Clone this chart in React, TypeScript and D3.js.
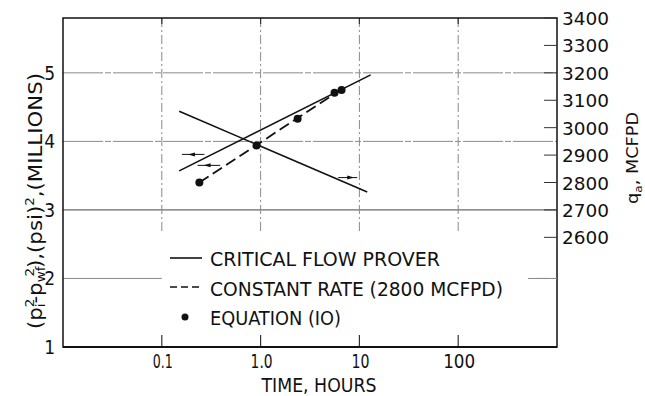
import React from "react";
import * as d3 from "d3";

// ---- data ----
const provRateTimes = [0.15, 12.0]; // hours
const provRate = [3060, 2765]; // MCFPD, right axis
const provPressTimes = [0.15, 13.0];
const provPress = [3.57, 4.97]; // millions psi^2, left axis
const constRateTimes = [0.24, 6.6];
const constRatePress = [3.4, 4.76];
const eqTimes = [0.24, 0.91, 2.37, 5.6, 6.6];
const eqPress = [3.4, 3.94, 4.33, 4.71, 4.75];

const xTicks = [0.1, 1, 10, 100];
const xTickLabels = ["0.1", "1.0", "10", "100"];
const xTickLabelWidths = [20, 22, 18, 32];
const leftTicks = [1, 2, 3, 4, 5];
const rightTicks = [2600, 2700, 2800, 2900, 3000, 3100, 3200, 3300, 3400];
const legendLabels = ["CRITICAL  FLOW  PROVER", "CONSTANT RATE (2800  MCFPD)", "EQUATION  (IO)"];

// arrows
const arrowStartT = [0.16, 0.23, 6.1];
const arrowEndT = [0.27, 0.39, 9.5];
const arrowVal = [3.81, 3.65, 2818];
const arrowAxis = ["L", "L", "R"];
const arrowDir = ["left", "left", "right"];

const W = 645;
const H = 396;
const L = 63, R = 557, T = 18, B = 347;

const FONT = '"DejaVu Sans Condensed", "Liberation Sans Narrow", "DejaVu Sans", sans-serif';

export default function App() {
  const x = d3.scaleLog().domain([0.01, 1000]).range([L, R]);
  const yL = d3.scaleLinear().domain([1, 5.8]).range([B, T]);
  const yR = d3.scaleLinear().domain([2200, 3400]).range([B, T]);

  const lineL = d3.line<[number, number]>().x((d) => x(d[0])).y((d) => yL(d[1]));
  const lineR = d3.line<[number, number]>().x((d) => x(d[0])).y((d) => yR(d[1]));

  const provRatePts = provRateTimes.map((t, i) => [t, provRate[i]] as [number, number]);
  const provPressPts = provPressTimes.map((t, i) => [t, provPress[i]] as [number, number]);
  const constPts = constRateTimes.map((t, i) => [t, constRatePress[i]] as [number, number]);

  const gridColor = "#8a8a8a";
  const textStyle: React.CSSProperties = { fontFamily: FONT, fontStretch: "condensed" };

  return (
    <svg width={W} height={H} style={{ position: "absolute", left: 0, top: 0, background: "#fff" }}>
      <rect x={0} y={0} width={W} height={H} fill="#fff" />
      {/* horizontal grid */}
      {[3, 4, 5].map((v) => (
        <line key={v} x1={L} x2={R} y1={yL(v)} y2={yL(v)} stroke={v === 3 ? "#444" : gridColor}
          strokeWidth={1} strokeDasharray={v === 3 ? undefined : "40 2 6 2"} />
      ))}
      <line x1={L} x2={x(0.1)} y1={yL(2)} y2={yL(2)} stroke={gridColor} strokeWidth={1} />
      <line x1={528} x2={R} y1={yL(2)} y2={yL(2)} stroke={gridColor} strokeWidth={1} strokeDasharray="10 2" />
      {/* vertical grid */}
      {xTicks.map((t) => (
        <g key={t}>
          <line x1={x(t)} x2={x(t)} y1={T} y2={232} stroke={gridColor} strokeWidth={1} strokeDasharray="9 3 2 3" />
          <line x1={x(t)} x2={x(t)} y1={T} y2={T + 6} stroke="#333" strokeWidth={1.2} />
          <line x1={x(t)} x2={x(t)} y1={B - 12} y2={B} stroke="#333" strokeWidth={1.2} />
        </g>
      ))}
      {/* frame */}
      <rect x={L} y={T} width={R - L} height={B - T} fill="none" stroke="#111" strokeWidth={1.5} />
      <line x1={L} x2={R} y1={B} y2={B} stroke="#111" strokeWidth={2} />
      {/* right axis ticks */}
      {rightTicks.map((v) => (
        <g key={v}>
          <line x1={R - 13} x2={R} y1={yR(v)} y2={yR(v)} stroke="#333" strokeWidth={1} />
          <text x={R + 5} y={yR(v) + 7} fontSize={18} fill="#111" style={textStyle}
            textLength={47} lengthAdjust="spacingAndGlyphs">{v}</text>
        </g>
      ))}
      <line x1={R - 22} x2={R} y1={yL(2)} y2={yL(2)} stroke={gridColor} strokeWidth={1} />
      {/* left axis labels */}
      {leftTicks.map((v) => (
        <text key={v} x={L - 8} y={yL(v) + 7} fontSize={19} textAnchor="end" fill="#111" style={textStyle}>{v}</text>
      ))}
      {/* x tick labels */}
      {xTicks.map((t, i) => (
        <text key={t} x={x(t) + 1} y={368} fontSize={20} textAnchor="middle" fill="#111" style={textStyle}
          textLength={xTickLabelWidths[i]} lengthAdjust="spacingAndGlyphs">{xTickLabels[i]}</text>
      ))}
      <text x={319} y={392} fontSize={20} textAnchor="middle" fill="#111" style={textStyle} textLength={115} lengthAdjust="spacingAndGlyphs">TIME, HOURS</text>
      {/* left title */}
      <text transform="translate(42,201) rotate(-90)" fontSize={19} textAnchor="middle" fill="#111" style={textStyle}
        textLength={256} lengthAdjust="spacingAndGlyphs">
        (p<tspan fontSize={12} dy={-8}>2</tspan><tspan fontSize={12} dx={-7} dy={11}>i</tspan><tspan dy={-3}>-p</tspan><tspan fontSize={12} dy={3}>wf</tspan><tspan fontSize={12} dx={-8} dy={-11}>2</tspan><tspan dy={8}>),(psi)</tspan><tspan fontSize={12} dy={-8}>2</tspan><tspan dy={8}>,(MILLIONS)</tspan>
      </text>
      {/* right title */}
      <text transform="translate(638,158) rotate(-90)" fontSize={16} textAnchor="middle" fill="#111" style={textStyle}
        textLength={92} lengthAdjust="spacingAndGlyphs">
        q<tspan fontSize={11} dy={4}>a</tspan><tspan dy={-4}>, MCFPD</tspan>
      </text>
      {/* data lines */}
      <path d={lineR(provRatePts) || ""} fill="none" stroke="#111" strokeWidth={1.6} />
      <path d={lineL(provPressPts) || ""} fill="none" stroke="#111" strokeWidth={1.6} />
      <path d={lineL(constPts) || ""} fill="none" stroke="#111" strokeWidth={1.8} strokeDasharray="11 5" />
      {eqTimes.map((t, i) => (
        <circle key={i} cx={x(t)} cy={yL(eqPress[i])} r={4} fill="#111" />
      ))}
      {/* arrows */}
      {arrowVal.map((v, i) => {
        const yy = arrowAxis[i] === "L" ? yL(v) : yR(v);
        const x0 = x(arrowStartT[i]);
        const x1 = x(arrowEndT[i]);
        const tip = arrowDir[i] === "left" ? x0 + 6 : x1 - 3;
        const s = arrowDir[i] === "left" ? 1 : -1;
        return (
          <g key={i}>
            <line x1={x0} x2={x1} y1={yy} y2={yy} stroke="#111" strokeWidth={1} />
            <path d={`M${tip},${yy} L${tip + 7 * s},${yy - 2} L${tip + 7 * s},${yy + 2} Z`} fill="#111" />
          </g>
        );
      })}
      {/* legend */}
      <line x1={170} x2={202} y1={258} y2={258} stroke="#111" strokeWidth={1.6} />
      <line x1={170} x2={203} y1={287} y2={287} stroke="#111" strokeWidth={1.6} strokeDasharray="7 4" />
      <circle cx={185} cy={317} r={3.5} fill="#111" />
      {legendLabels.map((s, i) => (
        <text key={i} x={210} y={266 + i * 29.5} fontSize={20} fill="#111" style={textStyle}
          textLength={[230, 293, 131][i]} lengthAdjust="spacingAndGlyphs">{s}</text>
      ))}
    </svg>
  );
}
